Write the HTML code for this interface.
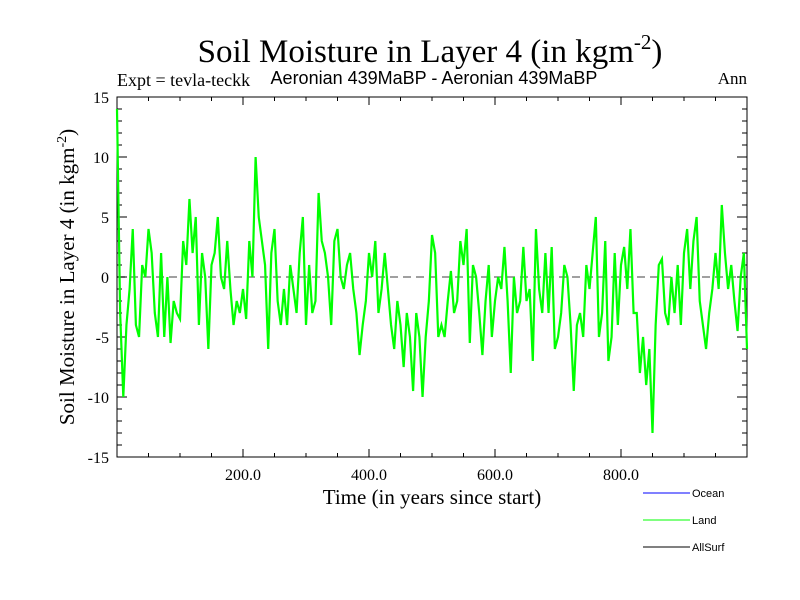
<!DOCTYPE html>
<html><head><meta charset="utf-8"><style>
body{margin:0;background:#fff}
svg{display:block}
text{font-family:"Liberation Serif",serif;fill:#000}
</style></head><body>
<svg id="chart" width="800" height="600" viewBox="0 0 800 600" xmlns="http://www.w3.org/2000/svg">
<text x="430" y="62" text-anchor="middle" font-size="33">Soil Moisture in Layer 4 (in kgm<tspan dy="-13" font-size="21">-2</tspan><tspan dy="13">)</tspan></text>
<text x="117" y="86" font-size="18">Expt = tevla-teckk</text>
<text x="434" y="84" text-anchor="middle" font-size="18" style="font-family:'Liberation Sans',sans-serif">Aeronian 439MaBP - Aeronian 439MaBP</text>
<text x="747" y="84" text-anchor="end" font-size="17">Ann</text>
<text x="432" y="504" text-anchor="middle" font-size="21">Time (in years since start)</text>
<text transform="translate(74,277) rotate(-90)" text-anchor="middle" font-size="21">Soil Moisture in Layer 4 (in kgm<tspan dy="-8" font-size="14">-2</tspan><tspan dy="8">)</tspan></text>
<g id="axes"></g>
<g id="series"></g>
<g font-size="11">
<line x1="643" y1="493" x2="690" y2="493" stroke="#0000ff"/>
<text x="692" y="497" font-size="11" style="font-family:'Liberation Sans',sans-serif">Ocean</text>
<line x1="643" y1="520" x2="690" y2="520" stroke="#00ff00"/>
<text x="692" y="524" font-size="11" style="font-family:'Liberation Sans',sans-serif">Land</text>
<line x1="643" y1="547" x2="690" y2="547" stroke="#000"/>
<text x="692" y="551" font-size="11" style="font-family:'Liberation Sans',sans-serif">AllSurf</text>
</g>
</svg>
<script>
const yearStep = 5;
const landValues = [14,-3,-10,-4,-1,4,-4,-5,1,0,4,2,-3,-5,2,-5,0,-5.5,-2,-3,-3.5,3,1,6.5,2,5,-4,2,0,-6,1,2,5,0,-1,3,-1,-4,-2,-3,-1,-3.5,3,0,10,5,3,1,-6,2,4,-2,
-4,-1,-4,1,-1,-3,2,5,-4,1,-3,-2,7,3,2,0,-4,3,4,0,-1,1,2,-1,-3,-6.5,-4,-2,2,0,3,-3,-1,2,-1,-4,-6,-2,-4,-7.5,-3,-5,-9.5,-3,-5,-10,-5,-2,3.5,2,-5,
-4,-5,-2,0.5,-3,-2,3,1,4,-5.5,1,0,-3,-6.5,-2,1,-5,-2,0,-1,2.5,-2,-8,0,-3,-2,2.5,-2,-1,-7,4,-1,-3,2,-3,2.5,-6,-5,-3,1,0,-4,-9.5,-4,-3,-5,1,-1,2,5,-5,
-3,3,-7,-5,2,-4,1,2.5,-1,4,-3,-3,-8,-5,-9,-6,-13,-4,1,1.5,-3,-4,0,-3,1,-4,2,4,-1,3,5,-2,-4,-6,-3,-1,2,-1,6,2,-1,1,-2,-4.5,0,2,-6];
const yTicks = [15,10,5,0,-5,-10,-15];
const yTickLabels = ["15","10","5","0","-5","-10","-15"];
const xTicks = [200,400,600,800];
const xTickLabels = ["200.0","400.0","600.0","800.0"];

const L=117,R=747,T=97,B=457, X0=0,X1=1000, Y0=-15,Y1=15;
const sx=v=>L+(v-X0)/(X1-X0)*(R-L);
const sy=v=>B-(v-Y0)/(Y1-Y0)*(B-T);
const NS="http://www.w3.org/2000/svg";
const axes=document.getElementById('axes'), series=document.getElementById('series');
function mk(tag,attrs,parent){const e=document.createElementNS(NS,tag);for(const k in attrs)e.setAttribute(k,attrs[k]);parent.appendChild(e);return e;}

const zero=mk('line',{x1:L,x2:R,y1:sy(0),y2:sy(0),stroke:'#808080','stroke-width':1.5,'stroke-dasharray':'8,5'},axes);



let d='';
landValues.forEach((v,i)=>{d+=(i?'L':'M')+sx(i*yearStep).toFixed(2)+','+sy(v).toFixed(2);});
const path=mk('path',{d:d,fill:'none',stroke:'#00ff00','stroke-width':2.2,'stroke-linejoin':'miter'},series);



const frame=mk('rect',{x:L,y:T,width:R-L,height:B-T,fill:'none',stroke:'#000','stroke-width':1},axes);



for(let v=Y0;v<=Y1;v++){
  const len=(v%5===0)?10:5, y=sy(v);
  mk('line',{x1:L,x2:L+len,y1:y,y2:y,stroke:'#000'},axes);
  mk('line',{x1:R-len,x2:R,y1:y,y2:y,stroke:'#000'},axes);
}
yTicks.forEach((v,i)=>{
  const t=mk('text',{x:L-8,y:sy(v)+6,'text-anchor':'end','font-size':16},axes);
  t.textContent=yTickLabels[i];
  
  
});
for(let v=50;v<X1;v+=50){
  const len=(v%200===0)?8:4, x=sx(v);
  mk('line',{x1:x,x2:x,y1:B,y2:B-len,stroke:'#000'},axes);
  mk('line',{x1:x,x2:x,y1:T,y2:T+len,stroke:'#000'},axes);
}
xTicks.forEach((v,i)=>{
  const t=mk('text',{x:sx(v),y:B+23,'text-anchor':'middle','font-size':16},axes);
  t.textContent=xTickLabels[i];
  
  
});
</script>
</body></html>
